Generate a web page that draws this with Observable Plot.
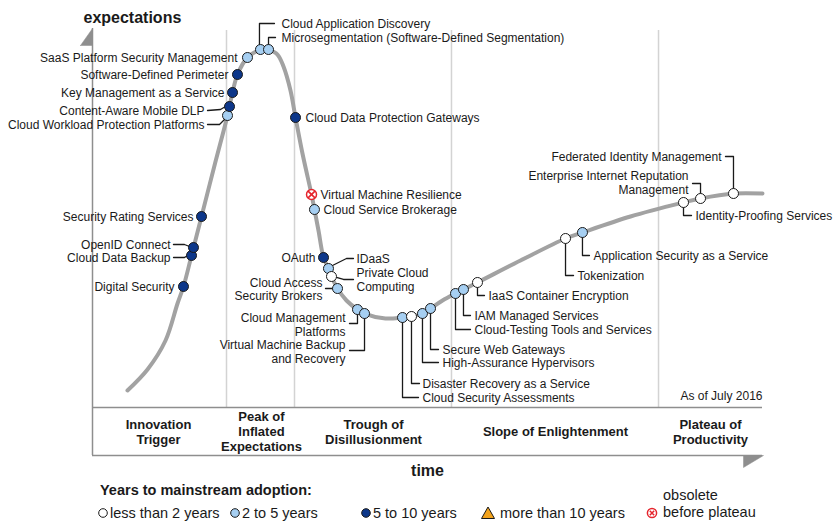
<!DOCTYPE html>
<html><head><meta charset="utf-8">
<script src="https://cdn.jsdelivr.net/npm/d3@7"></script>
<script src="https://cdn.jsdelivr.net/npm/@observablehq/plot@0.6"></script>
<style>
body{margin:0;background:#fff;font-family:"Liberation Sans",Arial,sans-serif;color:#1a1a1a}
#wrap{position:relative;width:839px;height:531px;overflow:hidden;background:#fff}
#chart{position:absolute;left:0;top:0}
.lg{position:absolute;white-space:nowrap;font-size:14.5px;line-height:18px}
.lgt{font-weight:bold}
</style></head><body>
<div id="wrap"><div id="chart"></div><div id="legend"></div></div>
<script>
// ---------------- data ----------------
const techNames = [
 "Digital Security","Cloud Data Backup","OpenID Connect","Security Rating Services",
 "Cloud Workload Protection Platforms","Content-Aware Mobile DLP","Key Management as a Service",
 "Software-Defined Perimeter","SaaS Platform Security Management","Cloud Application Discovery",
 "Microsegmentation (Software-Defined Segmentation)","Cloud Data Protection Gateways",
 "Virtual Machine Resilience","Cloud Service Brokerage","OAuth","IDaaS","Private Cloud\nComputing",
 "Cloud Access\nSecurity Brokers","Cloud Management\nPlatforms","Virtual Machine Backup\nand Recovery",
 "Cloud Security Assessments","Disaster Recovery as a Service","High-Assurance Hypervisors",
 "Secure Web Gateways","Cloud-Testing Tools and Services","IAM Managed Services",
 "IaaS Container Encryption","Tokenization","Application Security as a Service",
 "Identity-Proofing Services","Enterprise Internet Reputation\nManagement","Federated Identity Management"];
// position along time axis (0-100) and expectations (0-100)
const techTime = [13.58,14.78,15.07,16.27,20.15,20.45,20.90,21.64,23.13,25.07,26.27,30.30,32.69,33.13,34.48,35.22,35.67,36.57,39.55,40.60,46.27,47.61,49.25,50.45,54.18,55.37,57.46,70.60,73.13,88.21,90.75,95.67];
const techExpect = [32.10,40.32,42.44,50.66,77.45,79.84,83.55,88.33,92.84,94.96,94.96,76.92,56.50,52.52,39.79,36.87,34.75,31.56,25.99,24.93,23.87,24.14,24.93,26.26,30.24,31.30,33.16,44.83,46.42,54.38,55.44,56.76];
const techAdoption = ["5-10","5-10","5-10","5-10","2-5","5-10","5-10","5-10","2-5","2-5","2-5","5-10","obsolete","2-5","5-10","2-5","<2","2-5","2-5","2-5","2-5","<2","2-5","2-5","2-5","2-5","<2","<2","2-5","<2","<2","<2"];

const curveTime = [5.22,8.21,10.90,12.69,13.58,14.78,16.27,18.21,20.15,20.90,21.64,23.13,25.07,25.67,26.27,27.61,28.51,29.55,30.30,31.34,32.69,33.13,33.73,34.48,35.22,35.67,36.57,37.91,39.55,40.60,43.73,46.27,47.61,49.25,50.45,52.24,54.18,55.37,57.46,63.88,70.60,73.13,80.30,88.21,90.75,95.67,100];
const curveExpect = [4.51,10.08,17.77,27.59,32.10,40.32,50.66,64.19,77.45,83.55,88.33,92.84,94.96,95.23,94.96,93.63,90.45,84.08,76.92,67.37,56.50,52.52,46.95,39.79,36.87,34.75,31.56,28.38,25.99,24.93,23.61,23.87,24.14,24.93,26.26,28.38,30.24,31.30,33.16,38.99,44.83,46.42,50.66,54.38,55.44,56.76,56.76];

const phaseNames = ["Innovation\nTrigger","Peak of\nInflated\nExpectations","Trough of\nDisillusionment","Slope of Enlightenment","Plateau of\nProductivity"];
const phaseCenters = [9.85,25.22,41.94,69.10,92.24];
const phaseBounds = [20.0,30.15,53.58,84.48];

const adoptionCats = ["<2","2-5","5-10",">10","obsolete"];
const adoptionLabels = ["less than 2 years","2 to 5 years","5 to 10 years","more than 10 years","obsolete\nbefore plateau"];
const adoptionColors = ["#ffffff","#a6cff2","#0d378a","#f3a31c","#ffffff"];

// ---------------- layout (pixel offsets) ----------------
const W = 839, H = 480, X0 = 92, X1 = 762, Y1 = 30, Y0 = 407;
const kx = (X1 - X0) / 100, ky = (Y0 - Y1) / 100;
const BAND = 48;
const FONT = '"Liberation Sans", Arial, sans-serif';
const labelLayout = [
 {a:"end", dx:-9, dy:0},
 {a:"end", dx:-21, dy:2, path:[[-18,2],[-7,2],[-4,0]]},
 {a:"end", dx:-23, dy:-3, path:[[-20,-3],[-9,-3],[-4,-1]]},
 {a:"end", dx:-8, dy:0},
 {a:"end", dx:-23, dy:9, path:[[-20,9],[-8,9],[-3,4]]},
 {a:"end", dx:-25, dy:4, path:[[-22,4],[-9,3],[-4,0]]},
 {a:"end", dx:-8, dy:0},
 {a:"end", dx:-9, dy:0},
 {a:"end", dx:-10, dy:0},
 {a:"start", dx:21, dy:-26, path:[[-1,-5],[-1,-26],[14,-26]]},
 {a:"start", dx:13, dy:-12, path:[[0,-5],[0,-12],[7,-12]]},
 {a:"start", dx:10, dy:0},
 {a:"start", dx:9, dy:0},
 {a:"start", dx:9, dy:0},
 {a:"end", dx:-8, dy:0},
 {a:"start", dx:28, dy:-10, path:[[4,-3],[18,-10],[25,-10]]},
 {a:"start", dx:25, dy:3, path:[[5,1],[12,3],[22,3]]},
 {a:"end", dx:-15, dy:0.5, path:[[-12,0],[-5,0]]},
 {a:"end", dx:-12, dy:15, path:[[0,5],[0,14],[-8,14]]},
 {a:"end", dx:-19, dy:38, path:[[0,5],[0,37],[-15,37]]},
 {a:"start", dx:20, dy:80, path:[[0,5],[0,80],[16,80]]},
 {a:"start", dx:11, dy:67, path:[[0,5],[0,67],[8,67]]},
 {a:"start", dx:20, dy:49, path:[[0,5],[0,49],[16,49]]},
 {a:"start", dx:12, dy:41, path:[[0,5],[0,41],[8,41]]},
 {a:"start", dx:19, dy:36, path:[[0,5],[0,36],[15,36]]},
 {a:"start", dx:11, dy:26, path:[[0,5],[0,26],[7,26]]},
 {a:"start", dx:11, dy:13, path:[[0,5],[0,13],[7,13]]},
 {a:"start", dx:12, dy:37, path:[[0,5],[0,37],[8,37]]},
 {a:"start", dx:11, dy:23, path:[[0,5],[0,23],[7,23]]},
 {a:"start", dx:12, dy:13, path:[[0,5],[0,13],[8,13]]},
 {a:"end", dx:-12, dy:-16, path:[[0,-5],[0,-15],[-8,-15]]},
 {a:"end", dx:-12, dy:-37, path:[[0,-5],[0,-37],[-8,-37]]}
];

// ---------------- derived tables ----------------
const toT = (t, dx) => t + dx / kx;
const toE = (e, dy) => e - dy / ky;
const techs = techNames.map((name, i) => ({name, t: techTime[i], e: techExpect[i], cat: techAdoption[i]}));
const labels = techs.map((d, i) => ({...d, a: labelLayout[i].a, lx: toT(d.t, labelLayout[i].dx), ly: toE(d.e, labelLayout[i].dy)}));
const connectors = techs.flatMap((d, i) => (labelLayout[i].path || []).map(([dx, dy]) => ({name: d.name, x: toT(d.t, dx), y: toE(d.e, dy)})));
const curve = curveTime.map((t, i) => ({t, e: curveExpect[i]}));
const phases = phaseNames.map((name, i) => ({name, t: phaseCenters[i]}));
const bandBottom = toE(0, BAND);
const bandMid = toE(0, BAND / 2);
const topArrow = [[-12,15],[0,-2],[0,15],[-12,15]].map(([dx,dy]) => ({x: toT(0,dx), y: toE(100,dy)}));
const botArrow = [[-19,0],[1,0],[-19,12],[-19,0]].map(([dx,dy]) => ({x: toT(100,dx), y: toE(0,BAND+dy)}));
const GRAY = "#8e8e8e";

const plot = Plot.plot({
  width: W, height: H,
  marginLeft: X0, marginRight: W - X1, marginTop: Y1, marginBottom: H - Y0,
  x: {domain: [0, 100], axis: null},
  y: {domain: [0, 100], axis: null},
  color: {domain: adoptionCats, range: adoptionColors},
  style: {fontFamily: FONT, fontSize: "12px", color: "#1a1a1a", background: "#fff", overflow: "visible"},
  marks: [
    Plot.ruleX(phaseBounds, {y1: 0, y2: 100, stroke: "#d3d3d3", strokeWidth: 1.5}),
    Plot.ruleY([0, bandBottom], {x1: 0, x2: 100, stroke: GRAY, strokeWidth: 1.5}),
    Plot.ruleX([0], {y1: toE(100, -2), y2: bandBottom, stroke: GRAY, strokeWidth: 1.5}),
    Plot.line(topArrow, {x: "x", y: "y", fill: GRAY, stroke: GRAY, strokeWidth: 0.5}),
    Plot.line(botArrow, {x: "x", y: "y", fill: GRAY, stroke: GRAY, strokeWidth: 0.5}),
    Plot.line(curve, {x: "t", y: "e", curve: "catmull-rom", stroke: "#a2a2a2", strokeWidth: 4}),
    Plot.line(connectors, {x: "x", y: "y", z: "name", stroke: "#1a1a1a", strokeWidth: 1.3}),
    Plot.dot(techs.filter(d => d.cat !== "obsolete"), {x: "t", y: "e", r: 5, fill: "cat", stroke: "#1a1a1a", strokeWidth: 1}),
    Plot.dot(techs.filter(d => d.cat === "obsolete"), {x: "t", y: "e", r: 5, fill: "#fff", stroke: "#e5252d", strokeWidth: 1.5}),
    Plot.dot(techs.filter(d => d.cat === "obsolete"), {x: "t", y: "e", r: 3.2, symbol: "times", stroke: "#e5252d", strokeWidth: 1.6}),
    Plot.text(labels.filter(d => d.a === "end"), {x: "lx", y: "ly", text: "name", textAnchor: "end", lineAnchor: "middle", lineHeight: 1.12, fill: "#1a1a1a"}),
    Plot.text(labels.filter(d => d.a === "start"), {x: "lx", y: "ly", text: "name", textAnchor: "start", lineAnchor: "middle", lineHeight: 1.12, fill: "#1a1a1a"}),
    Plot.text(phases, {x: "t", y: bandMid, text: "name", fontWeight: "bold", fontSize: 13, lineHeight: 1.15, lineAnchor: "middle", fill: "#1a1a1a"}),
    Plot.text(["As of July 2016"], {frameAnchor: "bottom-right", dy: -11, lineAnchor: "middle", textAnchor: "end", fill: "#1a1a1a"}),
    Plot.text(["expectations"], {frameAnchor: "top-left", dx: -9, dy: -13, lineAnchor: "middle", textAnchor: "start", fontWeight: "bold", fontSize: 16, fill: "#1a1a1a"}),
    Plot.text(["time"], {frameAnchor: "bottom", dy: 63, lineAnchor: "middle", fontWeight: "bold", fontSize: 16, fill: "#1a1a1a"})
  ]
});
document.getElementById("chart").appendChild(plot);

// ---------------- legend ----------------
const legendSymbolX = [103, 235, 366, 488, 652];
const legendTextX = [110, 242, 373, 500, 663];
const lg = d3.select("#legend");
lg.append("div").attr("class", "lg lgt").style("left", "100px").style("top", "481px").text("Years to mainstream adoption:");
adoptionCats.forEach((c, i) => {
  const s = lg.append("svg").attr("width", 16).attr("height", 16)
    .style("position", "absolute").style("left", (legendSymbolX[i] - 8) + "px").style("top", (513 - 8) + "px");
  if (c === ">10") {
    s.append("path").attr("d", "M8,2 L14.5,13.5 L1.5,13.5 Z").attr("fill", adoptionColors[i]).attr("stroke", "#1a1a1a").attr("stroke-width", 1);
  } else if (c === "obsolete") {
    s.append("circle").attr("cx", 8).attr("cy", 8).attr("r", 4.6).attr("fill", "#fff").attr("stroke", "#e5252d").attr("stroke-width", 1.5);
    s.append("path").attr("d", "M5.8,5.8 L10.2,10.2 M10.2,5.8 L5.8,10.2").attr("stroke", "#e5252d").attr("stroke-width", 1.5);
  } else {
    s.append("circle").attr("cx", 8).attr("cy", 8).attr("r", 4.3).attr("fill", adoptionColors[i]).attr("stroke", "#1a1a1a").attr("stroke-width", 1);
  }
  const lines = adoptionLabels[i].split("\n");
  const div = lg.append("div").attr("class", "lg").style("left", legendTextX[i] + "px")
    .style("top", (513 - 9 - (lines.length - 1) * 17) + "px").style("line-height", lines.length > 1 ? "17px" : "18px");
  lines.forEach((l, j) => { if (j) div.append("br"); div.append("span").text(l); });
});
</script></body></html>
